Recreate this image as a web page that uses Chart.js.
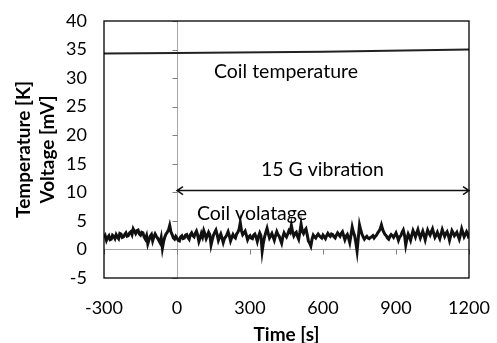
<!DOCTYPE html>
<html>
<head>
<meta charset="utf-8">
<script src="https://cdn.jsdelivr.net/npm/chart.js@4/dist/chart.umd.min.js"></script>
<style>
  html, body { margin: 0; padding: 0; background: #fff; }
  #wrap { width: 497px; height: 343px; }
</style>
</head>
<body>
<div id="wrap"><canvas id="chart" width="497" height="343"></canvas></div>
<script>
// time stamps [s] for the voltage trace (one row = 100 s)
const voltTimes = [
  -300, -295, -290, -285, -280, -275, -270, -265, -260, -255, -250, -245, -240, -235, -230, -225, -220, -215, -210, -205,
  -200, -195, -190, -185, -180, -175, -170, -165, -160, -155, -150, -145, -140, -135, -130, -125, -120, -115, -110, -105,
  -100, -95, -90, -85, -80, -75, -70, -65, -60, -55, -50, -45, -40, -35, -30, -25, -20, -15, -10, -5,
  0, 5, 10, 15, 20, 25, 30, 35, 40, 45, 50, 55, 60, 65, 70, 75, 80, 85, 90, 95,
  100, 105, 110, 115, 120, 125, 130, 135, 140, 145, 150, 155, 160, 165, 170, 175, 180, 185, 190, 195,
  200, 205, 210, 215, 220, 225, 230, 235, 240, 245, 250, 255, 260, 265, 270, 275, 280, 285, 290, 295,
  300, 305, 310, 315, 320, 325, 330, 335, 340, 345, 350, 355, 360, 365, 370, 375, 380, 385, 390, 395,
  400, 405, 410, 415, 420, 425, 430, 435, 440, 445, 450, 455, 460, 465, 470, 475, 480, 485, 490, 495,
  500, 505, 510, 515, 520, 525, 530, 535, 540, 545, 550, 555, 560, 565, 570, 575, 580, 585, 590, 595,
  600, 605, 610, 615, 620, 625, 630, 635, 640, 645, 650, 655, 660, 665, 670, 675, 680, 685, 690, 695,
  700, 705, 710, 715, 720, 725, 730, 735, 740, 745, 750, 755, 760, 765, 770, 775, 780, 785, 790, 795,
  800, 805, 810, 815, 820, 825, 830, 835, 840, 845, 850, 855, 860, 865, 870, 875, 880, 885, 890, 895,
  900, 905, 910, 915, 920, 925, 930, 935, 940, 945, 950, 955, 960, 965, 970, 975, 980, 985, 990, 995,
  1000, 1005, 1010, 1015, 1020, 1025, 1030, 1035, 1040, 1045, 1050, 1055, 1060, 1065, 1070, 1075, 1080, 1085, 1090, 1095,
  1100, 1105, 1110, 1115, 1120, 1125, 1130, 1135, 1140, 1145, 1150, 1155, 1160, 1165, 1170, 1175, 1180, 1185, 1190, 1195,
  1200
]
// coil voltage [mV]
const voltValues = [
  2.0, 2.4, 1.6, 2.1, 2.4, 1.7, 1.8, 2.5, 2.3, 1.9, 2.6, 2.2, 1.9, 2.8, 2.7, 2.1, 2.2, 2.6, 2.9, 2.3,
  2.4, 2.9, 3.1, 2.6, 3.6, 3.2, 2.8, 3.3, 3.4, 2.7, 2.5, 3.0, 2.9, 2.2, 1.8, 2.4, 1.0, 1.7, 2.3, 2.6,
  1.5, 2.2, 2.7, 2.3, 2.0, 1.6, 1.2, 2.1, 0.2, 1.4, 2.2, 2.7, 3.0, 3.4, 4.2, 3.1, 2.6, 2.0, 1.8, 2.3,
  2.0, 1.6, 1.5, 2.2, 2.4, 1.9, 2.0, 2.5, 2.6, 2.1, 1.8, 2.6, 2.9, 2.4, 2.2, 2.8, 3.2, 2.5, 1.4, 2.0,
  2.8, 2.2, 3.3, 2.7, 1.9, 2.4, 3.0, 2.6, 0.8, 1.7, 2.5, 3.0, 3.4, 2.6, 1.6, 2.2, 2.7, 2.0, 1.2, 1.9,
  2.2, 2.6, 3.1, 2.4, 1.5, 2.1, 2.6, 2.2, 2.0, 2.7, 3.0, 3.5, 4.7, 3.3, 2.6, 2.9, 3.2, 2.5, 1.7, 2.2,
  2.4, 2.0, 1.9, 2.5, 2.7, 2.2, 1.4, 2.3, 2.9, 2.4, -0.3, 1.2, 2.2, 3.0, 3.7, 2.8, 2.0, 2.4, 2.8, 2.2,
  1.6, 2.4, 3.1, 2.6, 2.3, 1.7, 1.1, 2.2, 2.9, 2.5, 2.2, 2.7, 3.3, 3.0, 4.2, 3.1, 2.4, 2.8, 3.0, 2.3,
  1.8, 3.0, 4.4, 3.2, 2.8, 3.3, 3.6, 2.6, 1.5, 1.1, 0.6, 1.8, 2.5, 2.2, 2.0, 2.4, 2.7, 2.4, 2.2, 2.0,
  2.5, 2.2, 1.9, 2.4, 2.8, 2.5, 2.3, 2.7, 2.6, 2.2, 2.0, 2.5, 2.9, 2.6, 2.3, 2.8, 3.1, 2.4, 1.7, 2.3,
  2.6, 2.0, 1.2, 2.5, 3.9, 3.0, 2.4, 1.2, -0.3, 2.0, 4.3, 3.4, 2.7, 2.2, 1.8, 2.1, 2.3, 2.0, 1.9, 2.1,
  2.2, 2.4, 2.0, 2.3, 2.5, 2.9, 3.2, 3.6, 4.3, 3.5, 3.0, 2.6, 2.4, 2.0, 1.8, 2.3, 2.6, 2.4, 2.1, 2.5,
  2.9, 2.3, 1.6, 2.2, 2.4, 3.0, 3.4, 2.5, 0.8, 1.9, 2.7, 2.2, 1.6, 2.5, 3.3, 2.8, 2.2, 2.9, 3.5, 2.7,
  2.0, 2.6, 3.2, 2.5, 1.7, 2.6, 3.4, 2.9, 2.5, 3.1, 3.6, 2.8, 2.1, 2.5, 3.0, 2.4, 1.9, 2.7, 3.5, 2.9,
  2.3, 2.8, 3.1, 2.5, 1.6, 2.4, 3.3, 2.9, 2.4, 2.7, 3.0, 2.4, 1.8, 2.6, 3.6, 2.9, 2.2, 2.6, 3.1, 2.7,
  1.9
]
// coil temperature [K]
const tempTimes = [-300, 0, 600, 1200]
const tempValues = [34.3, 34.4, 34.6, 35.0]

const xTicks = [-300, 0, 300, 600, 900, 1200]
const yTicks = [-5, 0, 5, 10, 15, 20, 25, 30, 35, 40]

// text notes placed in data units
const notes = [
  { text: "Coil temperature", t: 152, v: 31.2 },
  { text: "15 G vibration", t: 345, v: 13.9 },
  { text: "Coil volatage", t: 82, v: 6.2 }
]
const vibrationSpan = [0, 1200]
const vibrationLevel = 10.3

const FONT = "Lato, 'DejaVu Sans', sans-serif"

function toPoints(xs, ys){
    return xs.map((x, i) => ({ x: x, y: ys[i] }))
}

const framePlugin = {
    id: "frame",
    beforeDatasetsDraw(chart){
        const ctx = chart.ctx
        const xs = chart.scales.x
        const ys = chart.scales.y
        const a = chart.chartArea
        const x0 = Math.round(xs.getPixelForValue(0)) + 0.5
        const y0 = Math.round(ys.getPixelForValue(0)) + 0.5
        ctx.save()
        ctx.strokeStyle = "#a6a6a6"
        ctx.lineWidth = 1
        ctx.beginPath()
        ctx.moveTo(x0, a.top)
        ctx.lineTo(x0, a.bottom)
        ctx.moveTo(a.left, y0)
        ctx.lineTo(a.right, y0)
        ctx.stroke()
        // small tick marks on the crossing axes
        ctx.strokeStyle = "#7f7f7f"
        ctx.beginPath()
        yTicks.forEach(v => {
            const py = Math.round(ys.getPixelForValue(v)) + 0.5
            ctx.moveTo(x0 - 5, py)
            ctx.lineTo(x0, py)
        })
        xTicks.forEach(t => {
            const px = Math.round(xs.getPixelForValue(t)) + 0.5
            ctx.moveTo(px, y0)
            ctx.lineTo(px, y0 + 5)
        })
        ctx.stroke()
        ctx.restore()
    },
    afterDraw(chart){
        const ctx = chart.ctx
        const xs = chart.scales.x
        const ys = chart.scales.y
        const a = chart.chartArea
        ctx.save()
        ctx.strokeStyle = "#000"
        ctx.lineWidth = 1.3
        ctx.strokeRect(a.left, a.top, a.right - a.left, a.bottom - a.top)

        ctx.fillStyle = "#000"
        ctx.font = "19.5px " + FONT
        ctx.textBaseline = "middle"
        ctx.textAlign = "left"
        notes.forEach(n => {
            ctx.fillText(n.text, xs.getPixelForValue(n.t), ys.getPixelForValue(n.v))
        })

        // double headed arrow for the vibration period
        const xa = xs.getPixelForValue(vibrationSpan[0])
        const xb = xs.getPixelForValue(vibrationSpan[1])
        const ya = ys.getPixelForValue(vibrationLevel)
        ctx.strokeStyle = "#111"
        ctx.lineWidth = 1.5
        ctx.beginPath()
        ctx.moveTo(xa, ya)
        ctx.lineTo(xb, ya)
        ctx.moveTo(xa + 6, ya - 4)
        ctx.lineTo(xa, ya)
        ctx.lineTo(xa + 6, ya + 4)
        ctx.moveTo(xb - 6, ya - 4)
        ctx.lineTo(xb, ya)
        ctx.lineTo(xb - 6, ya + 4)
        ctx.stroke()
        ctx.restore()
    }
}

const chart = new Chart(document.getElementById("chart"), {
    type: "line",
    data: {
        datasets: [{
            label: "Coil temperature",
            data: toPoints(tempTimes, tempValues),
            borderColor: "#222",
            borderWidth: 2,
            pointRadius: 0,
            tension: 0
        }, {
            label: "Coil voltage",
            data: toPoints(voltTimes, voltValues),
            borderColor: "#111",
            borderWidth: 3,
            pointRadius: 0,
            tension: 0
        }]
    },
    options: {
        responsive: false,
        animation: false,
        layout: { padding: { top: 21, right: 28, bottom: 0, left: 0 } },
        plugins: {
            legend: { display: false },
            tooltip: { enabled: false }
        },
        scales: {
            x: {
                type: "linear",
                min: -300,
                max: 1200,
                afterBuildTicks: scale => { scale.ticks = xTicks.map(v => ({ value: v })) },
                grid: { display: false, drawTicks: false },
                border: { display: false },
                ticks: { color: "#000", font: { family: FONT, size: 18 }, padding: 19, maxRotation: 0, callback: v => String(v) },
                title: { display: true, text: "Time [s]", color: "#000", font: { family: FONT, size: 19, weight: "bold" }, padding: { top: 0, bottom: -3 } },
                afterFit: scale => {
                    scale.height = 65
                    scale.paddingLeft = 0
                    scale.paddingRight = 0
                }
            },
            y: {
                min: -5,
                max: 40,
                afterBuildTicks: scale => { scale.ticks = yTicks.map(v => ({ value: v })) },
                grid: { display: false, drawTicks: false },
                border: { display: false },
                ticks: { color: "#000", font: { family: FONT, size: 18 }, padding: 17 },
                title: { display: true, text: ["Temperature [K]", "Voltage [mV]"], color: "#000", font: { family: FONT, size: 19, weight: "bold", lineHeight: 1.25 }, padding: { top: 12, bottom: 0 } },
                afterFit: scale => {
                    scale.width = 104
                    scale.paddingTop = 0
                    scale.paddingBottom = 0
                }
            }
        }
    },
    plugins: [framePlugin]
})
</script>
</body>
</html>
